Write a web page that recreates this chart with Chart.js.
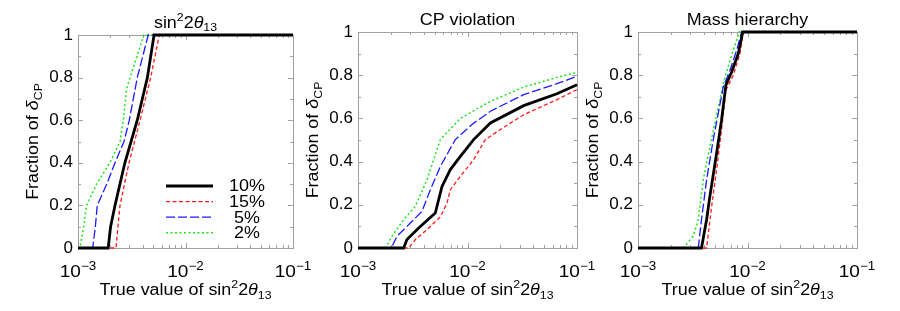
<!DOCTYPE html>
<html>
<head>
<meta charset="utf-8">
<script src="https://cdn.jsdelivr.net/npm/chart.js@4.4.1/dist/chart.umd.min.js"></script>
<style>
  body { margin: 0; background: #fff; }
  #wrap { position: relative; width: 900px; height: 311px; overflow: hidden; }
  canvas { position: absolute; top: 0; }
</style>
</head>
<body>
<div id="wrap">
  <canvas id="c1" width="320" height="311" style="left:0px"></canvas>
  <canvas id="c2" width="320" height="311" style="left:290px"></canvas>
  <canvas id="c3" width="320" height="311" style="left:580px"></canvas>
</div>
<script>
// tick labels (x ticks are 10 to these powers)
const xTickValues = [0.001, 0.01, 0.1];
const xTickPowers = ['−3', '−2', '−1'];
const yTickValues = [0, 0.2, 0.4, 0.6, 0.8, 1];
const yTickLabels = ['0', '0.2', '0.4', '0.6', '0.8', '1'];
const seriesLabels = ['10%', '15%', '5%', '2%'];

// panel 1: sin^2 2theta13 discovery
const th13X10 = [0.001, 0.00191, 0.00201, 0.00221, 0.00273, 0.00356, 0.00442, 0.0051, 0.1];
const th13Y10 = [0, 0, 0.1, 0.2, 0.4, 0.6, 0.8, 1, 1];
const th13X15 = [0.001, 0.00226, 0.00235, 0.00246, 0.00298, 0.00378, 0.00474, 0.0057, 0.1];
const th13Y15 = [0, 0, 0.1, 0.2, 0.4, 0.6, 0.8, 1, 1];
const th13X5 = [0.001, 0.00137, 0.00145, 0.00151, 0.00185, 0.00221, 0.00268, 0.0030, 0.00356, 0.0045, 0.1];
const th13Y5 = [0, 0, 0.1, 0.2, 0.3, 0.4, 0.5, 0.6, 0.8, 1, 1];
const th13X2 = [0.001, 0.00104, 0.00113, 0.0012, 0.00149, 0.00198, 0.00246, 0.00264, 0.00284, 0.00305, 0.0041, 0.1];
const th13Y2 = [0, 0, 0.1, 0.2, 0.3, 0.4, 0.5, 0.6, 0.75, 0.8, 1, 1];

// panel 2: CP violation
const cpvX10 = [0.001, 0.00261, 0.0028, 0.00358, 0.00508, 0.00585, 0.00697, 0.00861, 0.01138, 0.01618, 0.0326, 0.0656, 0.1];
const cpvY10 = [0, 0, 0.039, 0.093, 0.162, 0.285, 0.363, 0.424, 0.502, 0.579, 0.659, 0.714, 0.756];
const cpvX15 = [0.001, 0.0029, 0.00334, 0.00427, 0.00565, 0.0065, 0.00697, 0.00861, 0.01138, 0.01455, 0.0224, 0.0326, 0.0656, 0.1];
const cpvY15 = [0, 0, 0.039, 0.085, 0.144, 0.208, 0.27, 0.332, 0.409, 0.502, 0.565, 0.617, 0.687, 0.733];
const cpvX5 = [0.001, 0.00201, 0.00227, 0.00301, 0.00384, 0.00458, 0.00565, 0.00774, 0.0112, 0.01618, 0.0326, 0.0656, 0.1];
const cpvY5 = [0, 0, 0.054, 0.116, 0.17, 0.27, 0.378, 0.502, 0.575, 0.633, 0.71, 0.761, 0.795];
const cpvX2 = [0.001, 0.00178, 0.00204, 0.00261, 0.00334, 0.00427, 0.00565, 0.00861, 0.01618, 0.0326, 0.0656, 0.1];
const cpvY2 = [0, 0, 0.054, 0.131, 0.193, 0.316, 0.502, 0.6, 0.679, 0.745, 0.79, 0.813];

// panel 3: mass hierarchy
const mhX10 = [0.001, 0.0038, 0.00423, 0.00453, 0.00522, 0.00579, 0.00635, 0.00716, 0.00824, 0.00904, 0.1];
const mhY10 = [0, 0, 0.131, 0.238, 0.438, 0.592, 0.754, 0.815, 0.9, 1, 1];
const mhX15 = [0.001, 0.00423, 0.0047, 0.00522, 0.00579, 0.00635, 0.00741, 0.00853, 0.00916, 0.1];
const mhY15 = [0, 0, 0.192, 0.362, 0.546, 0.731, 0.8, 0.9, 1, 1];
const mhX5 = [0.001, 0.00355, 0.0038, 0.00423, 0.00486, 0.00601, 0.00692, 0.00796, 0.00885, 0.1];
const mhY5 = [0, 0, 0.131, 0.315, 0.5, 0.746, 0.823, 0.915, 1, 1];
const mhX2 = [0.001, 0.00258, 0.00319, 0.00355, 0.00394, 0.00453, 0.0056, 0.00601, 0.00692, 0.00841, 0.1];
const mhY2 = [0, 0, 0.054, 0.131, 0.315, 0.469, 0.685, 0.762, 0.869, 1, 1];

const fontFamily = '"Liberation Sans", Arial, Helvetica, sans-serif';
const textStretch = 1.12;

// line look for 10%, 15%, 5%, 2%
const lineStyles = [
  { color: '#000000', width: 2.8, dash: [], order: 0 },
  { color: '#ff1a1a', width: 1.3, dash: [4, 2.5], order: 1 },
  { color: '#1a1aff', width: 1.3, dash: [9, 3], order: 2 },
  { color: '#19e619', width: 1.5, dash: [2, 2.5], order: 3 }
];

function zip(xs, ys) {
  return xs.map((x, i) => ({ x: x, y: ys[i] }));
}

function fontFor(p, size) {
  const s = (p.sup || p.sub) ? Math.round(size * 0.7) : size;
  return (p.it ? 'italic ' : '') + s + 'px ' + fontFamily;
}

// draws text with super/subscripts, centred on cx, baseline at cy
function drawRich(ctx, parts, cx, cy, size) {
  ctx.save();
  ctx.translate(cx, cy);
  ctx.scale(textStretch, 1);
  ctx.textAlign = 'left';
  ctx.textBaseline = 'alphabetic';
  ctx.fillStyle = '#000';
  let w = 0;
  parts.forEach(p => { ctx.font = fontFor(p, size); w += ctx.measureText(p.t).width; });
  let x = -w / 2;
  parts.forEach(p => {
    ctx.font = fontFor(p, size);
    const dy = p.sup ? -0.42 * size : (p.sub ? 0.22 * size : 0);
    ctx.fillText(p.t, x, dy);
    x += ctx.measureText(p.t).width;
  });
  ctx.restore();
}

const sinTheta = [{ t: 'sin' }, { t: '2', sup: true }, { t: '2' }, { t: 'θ', it: true }, { t: '13', sub: true }];
const xTitle = [{ t: 'True value of sin' }, { t: '2', sup: true }, { t: '2' }, { t: 'θ', it: true }, { t: '13', sub: true }];
const yTitle = [{ t: 'Fraction of ' }, { t: 'δ', it: true }, { t: 'CP', sub: true }];

const framePlugin = {
  id: 'frame',
  beforeDatasetsDraw(chart) {
    const { ctx, chartArea: a, scales } = chart;
    ctx.save();
    ctx.strokeStyle = '#a0a0a0';
    ctx.lineWidth = 1;
    ctx.strokeRect(Math.round(a.left) + 0.5, Math.round(a.top) + 0.5, Math.round(a.right - a.left), Math.round(a.bottom - a.top));
    ctx.beginPath();
    for (let n = -3; n <= -1; n++) {
      for (let k = 1; k <= 9; k++) {
        const v = k * Math.pow(10, n);
        if (v > 0.1 + 1e-9) break;
        const px = Math.round(scales.x.getPixelForValue(v)) + 0.5;
        const len = k === 1 ? 5 : 3;
        ctx.moveTo(px, a.bottom); ctx.lineTo(px, a.bottom - len);
        ctx.moveTo(px, a.top); ctx.lineTo(px, a.top + len);
      }
    }
    for (let i = 0; i <= 10; i++) {
      const py = Math.round(scales.y.getPixelForValue(i / 10)) + 0.5;
      const len = i % 2 === 0 ? 5 : 3;
      ctx.moveTo(a.left, py); ctx.lineTo(a.left + len, py);
      ctx.moveTo(a.right, py); ctx.lineTo(a.right - len, py);
    }
    ctx.stroke();
    ctx.restore();
  }
};

const labelPlugin = {
  id: 'labels',
  afterDraw(chart, args, opts) {
    const { ctx, chartArea: a, scales } = chart;
    const midX = (a.left + a.right) / 2;
    drawRich(ctx, opts.title, midX, a.top - 7.5, 16);
    drawRich(ctx, xTitle, midX, a.bottom + 47, 16);
    ctx.save();
    ctx.translate(a.left - 40, (a.top + a.bottom) / 2);
    ctx.rotate(-Math.PI / 2);
    drawRich(ctx, yTitle, 0, 0, 16);
    ctx.restore();

    // x tick labels as 10 with a raised power, placed by the log scale
    scales.x.ticks.forEach((t, i) => {
      const px = scales.x.getPixelForValue(t.value);
      drawRich(ctx, [{ t: '10' }, { t: xTickPowers[i], sup: true }], px, a.bottom + 29, 17);
    });

    if (opts.legend) {
      const x0 = a.right - 127, x1 = a.right - 80, tx = a.right - 46;
      chart.data.datasets.forEach((ds, i) => {
        const y = a.bottom - 62 + i * 15.6;
        ctx.save();
        ctx.strokeStyle = ds.borderColor;
        ctx.lineWidth = ds.borderWidth;
        ctx.setLineDash(ds.borderDash);
        ctx.beginPath();
        ctx.moveTo(x0, y); ctx.lineTo(x1, y);
        ctx.stroke();
        ctx.restore();
        ctx.save();
        ctx.translate(tx, y);
        ctx.scale(textStretch, 1);
        ctx.font = '16px ' + fontFamily;
        ctx.fillStyle = '#000';
        ctx.textAlign = 'center';
        ctx.textBaseline = 'middle';
        ctx.fillText(ds.label, 0, 1);
        ctx.restore();
      });
    }
  }
};

function makeChart(id, cfg) {
  const datasets = cfg.series.map((s, i) => ({
    label: seriesLabels[i],
    data: zip(s[0], s[1]),
    borderColor: lineStyles[i].color,
    borderWidth: lineStyles[i].width,
    borderDash: lineStyles[i].dash,
    order: lineStyles[i].order,
    fill: false,
    pointRadius: 0,
    tension: 0,
    clip: false
  }));
  return new Chart(document.getElementById(id), {
    type: 'line',
    data: { datasets: datasets },
    plugins: [framePlugin, labelPlugin],
    options: {
      responsive: false,
      animation: false,
      events: [],
      layout: { padding: { left: 0, right: cfg.padRight, top: cfg.padTop, bottom: 0 } },
      plugins: {
        legend: { display: false },
        tooltip: { enabled: false },
        labels: { title: cfg.title, legend: cfg.legend }
      },
      scales: {
        x: {
          type: 'logarithmic',
          min: 0.001,
          max: 0.1,
          afterBuildTicks: s => { s.ticks = xTickValues.map(v => ({ value: v })); },
          afterFit: s => { s.height = 311 - 248; },
          grid: { display: false, drawTicks: false },
          border: { display: false },
          ticks: { display: false, autoSkip: false, maxRotation: 0 }
        },
        y: {
          min: 0,
          max: 1,
          afterBuildTicks: s => { s.ticks = yTickValues.map(v => ({ value: v })); },
          afterFit: s => { s.width = cfg.leftW; },
          grid: { display: false, drawTicks: false },
          border: { display: false },
          ticks: {
            padding: 5, color: '#000',
            font: { family: fontFamily, size: 17 },
            callback: (v, i) => yTickLabels[i]
          }
        }
      }
    }
  });
}

makeChart('c1', {
  title: sinTheta, legend: true, leftW: 78, padRight: 27, padTop: 35,
  series: [[th13X10, th13Y10], [th13X15, th13Y15], [th13X5, th13Y5], [th13X2, th13Y2]]
});
makeChart('c2', {
  title: [{ t: 'CP violation' }], legend: false, leftW: 68, padRight: 33, padTop: 32,
  series: [[cpvX10, cpvY10], [cpvX15, cpvY15], [cpvX5, cpvY5], [cpvX2, cpvY2]]
});
makeChart('c3', {
  title: [{ t: 'Mass hierarchy' }], legend: false, leftW: 58, padRight: 43, padTop: 32,
  series: [[mhX10, mhY10], [mhX15, mhY15], [mhX5, mhY5], [mhX2, mhY2]]
});
</script>
</body>
</html>
